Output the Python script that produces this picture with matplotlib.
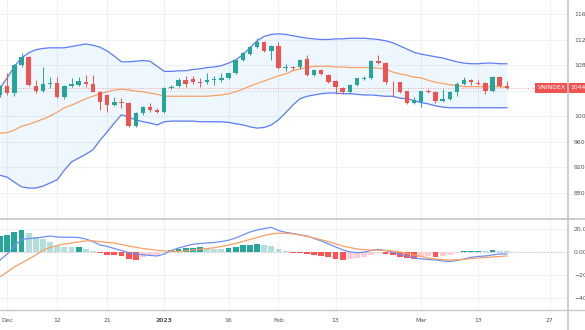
import matplotlib
matplotlib.use("Agg")
import matplotlib.pyplot as plt
from matplotlib.lines import Line2D
import numpy as np
import pandas as pd

# trading days (HOSE), Tet + New Year closures removed
holidays = ["2023-01-02", "2023-01-20", "2023-01-23", "2023-01-24", "2023-01-25", "2023-01-26"]
days = [d for d in pd.bdate_range("2022-11-30", "2023-03-31") if d.strftime("%Y-%m-%d") not in holidays]

open_ = [1033, 1047, 1036, 1080, 1093, 1047, 1039, 1050, 1052, 1030, 1047, 1049, 1053, 1051, 1038, 1033,
         1017, 1022, 1020, 984, 1004, 1014, 1009, 1006, 1044, 1047, 1056, 1058, 1053, 1053, 1056, 1056,
         1060, 1067, 1088, 1098, 1108, 1116, 1102, 1110, 1075, 1077, 1077, 1089, 1065, 1072, 1065, 1055,
         1044, 1038, 1049, 1058, 1060, 1086, 1083, 1054, 1053, 1039, 1021, 1022, 1040, 1038, 1024, 1027,
         1038, 1051, 1056, 1052, 1052, 1039, 1061, 1047]
high = [1049, 1067, 1082, 1099, 1094, 1057, 1077, 1061, 1061, 1049, 1059, 1061, 1064, 1064, 1039, 1035,
        1030, 1028, 1022, 1006, 1016, 1020, 1012, 1046, 1049, 1059, 1062, 1062, 1060, 1067, 1062, 1067,
        1068, 1089, 1100, 1109, 1123, 1118, 1112, 1116, 1082, 1079, 1090, 1095, 1074, 1074, 1066, 1056,
        1045, 1050, 1060, 1062, 1088, 1096, 1085, 1055, 1054, 1040, 1030, 1040, 1043, 1040, 1043, 1040,
        1053, 1061, 1058, 1056, 1053, 1062, 1062, 1055]
low = [1030, 1033, 1031, 1077, 1047, 1036, 1037, 1044, 1028, 1026, 1045, 1047, 1045, 1037, 1010, 1006,
       1015, 1012, 982, 982, 1001, 1006, 1004, 1004, 1042, 1045, 1046, 1050, 1045, 1051, 1049, 1054,
       1058, 1066, 1086, 1096, 1106, 1100, 1088, 1073, 1071, 1072, 1074, 1063, 1063, 1064, 1052, 1035,
       1035, 1036, 1047, 1056, 1058, 1082, 1051, 1030, 1036, 1019, 1019, 1014, 1036, 1021, 1022, 1025,
       1032, 1049, 1048, 1048, 1034, 1038, 1045, 1043]
close = [1047, 1036, 1080, 1093, 1049, 1039, 1050, 1052, 1030, 1047, 1050, 1055, 1051, 1038, 1022, 1017,
         1022, 1020, 984, 1004, 1014, 1009, 1006, 1044, 1046, 1057, 1051, 1053, 1052, 1057, 1058, 1060,
         1067, 1088, 1099, 1108, 1116, 1102, 1110, 1075, 1077, 1075, 1088, 1065, 1072, 1066, 1054, 1045,
         1038, 1049, 1059, 1060, 1086, 1083, 1053, 1053, 1038, 1021, 1025, 1039, 1038, 1023, 1027, 1038,
         1051, 1057, 1053, 1051, 1039, 1061, 1047, 1044]

bb_upper = [1044, 1060, 1078, 1091, 1099, 1104, 1106, 1107, 1107, 1107, 1109, 1111, 1113, 1111, 1108, 1102,
            1094, 1085, 1085, 1086, 1087, 1086, 1078, 1070, 1070, 1071, 1071, 1073, 1074, 1076, 1077, 1079,
            1083, 1088, 1096, 1107, 1118, 1125, 1128, 1129, 1128, 1126, 1124, 1122, 1121, 1120, 1120, 1121,
            1121, 1122, 1122, 1122, 1121, 1120, 1118, 1115, 1110, 1105, 1100, 1097, 1095, 1093, 1091, 1088,
            1085, 1083, 1082, 1082, 1083, 1083, 1082, 1082]
bb_basis = [973, 974, 978, 984, 987, 991, 995, 1000, 1006, 1013, 1017, 1022, 1027, 1031, 1035, 1038,
            1041, 1042, 1041, 1039, 1038, 1036, 1034, 1031, 1031, 1031, 1031, 1031, 1031, 1031, 1032, 1033,
            1035, 1038, 1042, 1047, 1051, 1055, 1059, 1063, 1066, 1071, 1074, 1076, 1078, 1078, 1078, 1077,
            1077, 1076, 1076, 1076, 1076, 1075, 1074, 1069, 1066, 1064, 1061, 1060, 1056, 1053, 1051, 1049,
            1048, 1046, 1046, 1046, 1046, 1046, 1046, 1045]
bb_lower = [907, 904, 896, 889, 887, 887, 890, 895, 900, 915, 928, 934, 940, 947, 962, 975,
            989, 1002, 998, 994, 991, 989, 986, 991, 992, 992, 992, 992, 991, 991, 991, 991,
            990, 988, 986, 983, 981, 982, 986, 994, 1005, 1017, 1027, 1031, 1033, 1035, 1036, 1036,
            1035, 1035, 1034, 1033, 1033, 1032, 1031, 1031, 1028, 1027, 1024, 1021, 1019, 1016, 1014, 1013,
            1013, 1013, 1013, 1013, 1013, 1013, 1013, 1013]

macd = [-7.0, -1.7, 5.2, 10.9, 11.7, 12.2, 13.0, 13.9, 13.0, 12.8, 12.8, 12.6, 11.3, 9.1, 6.1, 4.8,
        3.0, 1.3, -0.7, -1.7, -2.4, -3.0, -3.5, -1.7, 1.3, 3.5, 5.2, 6.7, 7.4, 7.8, 8.3, 9.1,
        10.2, 12.2, 14.8, 17.4, 19.1, 20.4, 21.5, 18.7, 17.1, 16.1, 15.0, 13.9, 11.7, 9.6, 7.0, 4.4,
        1.9, 0.0, -0.6, -0.2, 1.3, 2.3, 1.3, -0.3, -1.9, -3.5, -5.0, -6.1, -6.5, -7.0, -7.8, -8.3,
        -7.4, -6.1, -4.6, -3.9, -3.5, -2.6, -1.7, -1.7]
signal = [-21.5, -17.4, -13.0, -9.6, -6.1, -2.6, 1.7, 3.9, 5.7, 7.0, 7.8, 8.7, 9.6, 9.7, 9.0, 8.3,
          7.7, 6.5, 5.2, 4.1, 3.0, 2.3, 1.5, 0.9, 0.6, 0.4, 0.9, 1.7, 2.3, 3.0, 3.7, 4.8,
          6.1, 7.4, 9.1, 10.9, 12.6, 14.4, 15.7, 16.3, 16.3, 15.7, 14.8, 13.5, 12.2, 10.6, 8.9, 7.1,
          5.2, 3.9, 2.6, 2.0, 1.7, 1.6, 1.2, 0.9, 0.0, -1.3, -2.6, -3.9, -5.2, -6.1, -6.8, -7.0,
          -6.8, -6.4, -5.7, -5.2, -4.8, -4.4, -3.9, -3.5]
hist = [13.9, 14.8, 17.1, 19.1, 16.2, 12.8, 11.0, 9.0, 5.2, 4.6, 4.0, 4.0, 2.6, 1.2, -0.6, -2.3,
        -2.9, -3.5, -6.4, -6.6, -4.0, -3.8, -2.6, 0.3, 1.7, 2.6, 3.5, 3.8, 4.0, 3.2, 2.6, 2.3,
        3.2, 4.6, 5.8, 6.4, 7.0, 6.4, 5.2, 2.3, 1.2, -0.6, -1.2, -1.7, -2.6, -3.5, -4.6, -5.8,
        -7.0, -6.4, -5.5, -4.0, -2.6, -0.3, -1.7, -2.6, -4.0, -5.5, -6.4, -4.0, -3.5, -4.1, -3.5, -2.6,
        -1.2, 0.6, 0.9, 1.2, 0.6, 1.7, 1.2, 0.6]

price_ticks = [880, 920, 960, 1000, 1040, 1080, 1120, 1160]
tick_dates = ["2022-12-01", "2022-12-12", "2022-12-21", "2023-01-03", "2023-01-16",
              "2023-02-01", "2023-02-13", "2023-03-01", "2023-03-13", "2023-03-27"]
tick_labels = ["Dec", "12", "21", "2023", "16", "Feb", "13", "Mar", "13", "27"]

UP, DOWN = "#26a69a", "#ef5350"
GRID = "#eef1f6"
TXT = "#50535e"
FS = 4.4

plt.rcParams["font.family"] = "DejaVu Sans"

x = np.arange(len(close))
o, h, l, c = map(np.array, (open_, high, low, close))
colors = np.where(c >= o, UP, DOWN)

day_str = [d.strftime("%Y-%m-%d") for d in days]
tick_pos = [day_str.index(d) for d in tick_dates]
xmax = 1 + (568 - 7) / 7.14

fig = plt.figure(figsize=(5.85, 3.3), dpi=100)
ax = fig.add_axes([0, 1 - 218 / 330, 568 / 585, 218 / 330])
ax2 = fig.add_axes([0, 20 / 330, 568 / 585, 91 / 330], sharex=ax)

# price pane
ax.fill_between(x, bb_lower, bb_upper, color="#2196f3", alpha=0.07, lw=0)
ax.plot(x, bb_upper, color="#5b7cf7", lw=0.9)
ax.plot(x, bb_lower, color="#5b7cf7", lw=0.9)
ax.plot(x, bb_basis, color="#f9a066", lw=0.9)
ax.vlines(x, l, h, colors=colors, lw=0.7, zorder=3)
ax.bar(x, np.maximum(np.abs(c - o), 0.9), bottom=np.minimum(o, c), width=0.62, color=colors, zorder=4)
ax.axhline(c[-1], color=DOWN, ls=(0, (1, 2)), lw=0.6, alpha=0.7, zorder=1)

ax.set_ylim(840, 1182)
ax.set_yticks(price_ticks)
# the 1040 label sits under the last-price tag
ax.set_yticklabels(["" if abs(p - c[-1]) < 15 else str(p) for p in price_ticks])
ax.yaxis.tick_right()
ax.tick_params(axis="y", length=0, pad=4.3, labelsize=FS, labelcolor=TXT)
ax.tick_params(axis="x", length=0, labelbottom=False)
ax.grid(True, color=GRID, lw=0.8)
ax.set_axisbelow(True)

ax.annotate("VNINDEX", xy=(0.997, c[-1]), xycoords=("axes fraction", "data"), ha="right", va="center",
            fontsize=FS, color="white", zorder=10,
            bbox=dict(boxstyle="square,pad=0.45", fc=DOWN, ec="none"))
ax.annotate(f"{c[-1]:.2f}", xy=(1.004, c[-1]), xycoords=("axes fraction", "data"), ha="left", va="center",
            fontsize=FS, color="white", zorder=10, annotation_clip=False,
            bbox=dict(boxstyle="square,pad=0.45", fc=DOWN, ec="none"))

# MACD pane
hcol = []
for i, v in enumerate(hist):
    prev = hist[i - 1] if i > 0 else v
    if v >= 0:
        hcol.append("#26a69a" if v >= prev else "#b2dfdb")
    else:
        hcol.append("#ff5252" if v <= prev else "#ffcdd2")
ax2.bar(x, hist, width=0.82, color=hcol, zorder=2)
ax2.axhline(0, color="#c5c8ce", ls=(0, (2, 2)), lw=0.6, zorder=1)
ax2.plot(x, macd, color="#6f8ff7", lw=0.9, zorder=3)
ax2.plot(x, signal, color="#f9a066", lw=0.9, zorder=3)

ax2.set_ylim(-50.5, 28.7)
ax2.set_yticks([20, 0, -20, -40])
ax2.set_yticklabels(["20.00", "0.00", "\u221220.00", "\u221240.00"])
ax2.yaxis.tick_right()
ax2.tick_params(axis="y", length=0, pad=4.3, labelsize=FS, labelcolor=TXT)
ax2.grid(True, color=GRID, lw=0.8)
ax2.set_axisbelow(True)

ax2.set_xlim(-0.02, xmax)
ax2.set_xticks(tick_pos)
ax2.set_xticklabels(tick_labels)
ax2.tick_params(axis="x", length=0, pad=6, labelsize=FS, labelcolor=TXT)
for t in ax2.get_xticklabels():
    if t.get_text() == "2023":
        t.set_fontweight("bold")

for a in (ax, ax2):
    for s in a.spines.values():
        s.set_visible(False)

# pane separators
sep = "#c3c6cc"
fig.add_artist(Line2D([568 / 585, 568 / 585], [0, 1], color=sep, lw=1.2))
fig.add_artist(Line2D([0, 1], [1 - 218.5 / 330, 1 - 218.5 / 330], color=sep, lw=1.2))
fig.add_artist(Line2D([0, 1], [20 / 330, 20 / 330], color=sep, lw=1.0))

fig.savefig("out.png", dpi=100)
